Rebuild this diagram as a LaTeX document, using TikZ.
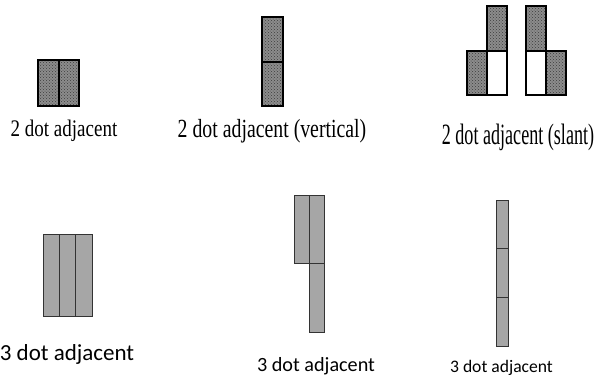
\documentclass[tikz,border=0pt]{standalone}
\usepackage{fontspec}
\usepackage{graphicx}
\usepackage{tikz}
\usetikzlibrary{patterns}
\newfontfamily\dotserif{Liberation Serif}
\newfontfamily\dotsans{Carlito}
\definecolor{dotgray}{HTML}{8C8C8C}
\definecolor{dotdark}{HTML}{3C3C3C}
\definecolor{barfill}{HTML}{A6A6A6}
\definecolor{baredge}{HTML}{333333}
\tikzset{
  dotcell/.style={fill=dotgray,postaction={pattern=crosshatch dots,pattern color=dotdark}},
  dotframe/.style={draw=black,line width=2pt},
  dotline/.style={draw=black,line width=1.5pt},
  barcell/.style={fill=barfill,draw=baredge,line width=1pt},
  lbl/.style={inner sep=0pt,anchor=base}
}
\newcommand{\tallserif}[3]{{\fontsize{#1}{#1}\dotserif\scalebox{1}[#2]{#3}}}
\newcommand{\plainsans}[2]{{\fontsize{#1}{#1}\dotsans #2}}

\begin{document}
\begin{tikzpicture}[x=1pt,y=-1pt]
  \useasboundingbox (0,0) rectangle (608,376);

  % 2 dot adjacent
  \fill[dotcell] (38,60) rectangle (79,106);
  \draw[dotframe] (38,60) rectangle (79,106);
  \draw[dotline] (59,60) -- (59,106);
  \node[lbl] (twoadj) at (64,136.7) {\tallserif{19}{1.25}{2 dot adjacent}};

  % 2 dot adjacent (vertical)
  \fill[dotcell] (262,17) rectangle (283,106);
  \draw[dotframe] (262,17) rectangle (283,106);
  \draw[dotline] (262,62) -- (283,62);
  \node[lbl] (twovert) at (272,137) {\tallserif{19.8}{1.32}{2 dot adjacent (vertical)}};

  % 2 dot adjacent (slant), left pair
  \fill[dotcell] (487,6) rectangle (507,51);
  \fill[dotcell] (467,51) rectangle (487,95);
  \draw[dotframe] (487,6) rectangle (507,51);
  \draw[dotframe] (467,51) rectangle (487,95);
  \draw[dotframe] (487,51) rectangle (507,95);

  % 2 dot adjacent (slant), right pair
  \fill[dotcell] (526,6) rectangle (546,51);
  \fill[dotcell] (546,51) rectangle (566,95);
  \draw[dotframe] (526,6) rectangle (546,51);
  \draw[dotframe] (526,51) rectangle (546,95);
  \draw[dotframe] (546,51) rectangle (566,95);
  \node[lbl] (twoslant) at (518,144.3) {\tallserif{18.1}{1.63}{2 dot adjacent (slant)}};

  % 3 dot adjacent, side by side
  \foreach \x in {43,59.3,75.7}
    \draw[barcell] (\x,234) rectangle ++(16.3,82);
  \node[lbl] (threeside) at (67,360.7) {\plainsans{23}{3 dot adjacent}};

  % 3 dot adjacent, step
  \draw[barcell] (294,195) rectangle (309,263);
  \draw[barcell] (309,195) rectangle (324,263);
  \draw[barcell] (309,263) rectangle (324,332);
  \node[lbl] (threestep) at (316,371.3) {\plainsans{20.2}{3 dot adjacent}};

  % 3 dot adjacent, column
  \foreach \y in {200,248.7,297.3}
    \draw[barcell] (496,\y) rectangle ++(12,48.7);
  \node[lbl] (threecol) at (501.5,372.3) {\plainsans{17.6}{3 dot adjacent}};
\end{tikzpicture}
\end{document}
